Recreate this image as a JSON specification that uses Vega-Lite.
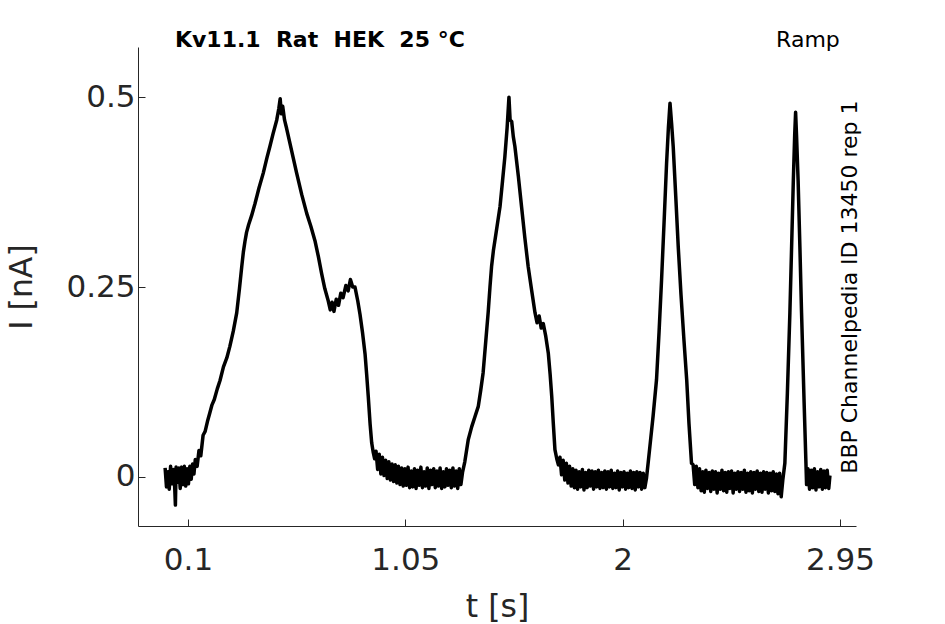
{
  "$schema": "https://vega.github.io/schema/vega-lite/v6.json",
  "width": 718,
  "height": 479,
  "autosize": {"type": "none"},
  "padding": {"left": 138, "top": 47, "right": 89, "bottom": 98},
  "background": "white",
  "data": {
    "values": [
      {"t": 0.000, "i": 0.012}, {"t": 0.006, "i": -0.013}, {"t": 0.012, "i": 0.007}, {"t": 0.018, "i": -0.016},
      {"t": 0.024, "i": 0.014}, {"t": 0.030, "i": -0.009}, {"t": 0.036, "i": 0.010}, {"t": 0.042, "i": -0.014},
      {"t": 0.045, "i": -0.037}, {"t": 0.048, "i": 0.013}, {"t": 0.054, "i": -0.007}, {"t": 0.060, "i": 0.012},
      {"t": 0.066, "i": -0.015}, {"t": 0.072, "i": 0.013}, {"t": 0.078, "i": -0.010}, {"t": 0.084, "i": 0.014},
      {"t": 0.090, "i": -0.012}, {"t": 0.096, "i": 0.011}, {"t": 0.102, "i": -0.009}, {"t": 0.108, "i": 0.014},
      {"t": 0.114, "i": -0.003}, {"t": 0.120, "i": 0.017}, {"t": 0.126, "i": 0.004}, {"t": 0.132, "i": 0.023},
      {"t": 0.140, "i": 0.014}, {"t": 0.148, "i": 0.035}, {"t": 0.156, "i": 0.028}, {"t": 0.166, "i": 0.055},
      {"t": 0.175, "i": 0.060}, {"t": 0.185, "i": 0.073}, {"t": 0.195, "i": 0.084}, {"t": 0.205, "i": 0.095},
      {"t": 0.215, "i": 0.102}, {"t": 0.228, "i": 0.116}, {"t": 0.240, "i": 0.127}, {"t": 0.255, "i": 0.145},
      {"t": 0.270, "i": 0.157}, {"t": 0.283, "i": 0.172}, {"t": 0.298, "i": 0.192}, {"t": 0.313, "i": 0.216},
      {"t": 0.325, "i": 0.248}, {"t": 0.335, "i": 0.277}, {"t": 0.342, "i": 0.296}, {"t": 0.349, "i": 0.310},
      {"t": 0.356, "i": 0.322}, {"t": 0.365, "i": 0.332}, {"t": 0.378, "i": 0.344}, {"t": 0.393, "i": 0.360},
      {"t": 0.410, "i": 0.380}, {"t": 0.429, "i": 0.400}, {"t": 0.445, "i": 0.420}, {"t": 0.458, "i": 0.435},
      {"t": 0.472, "i": 0.452}, {"t": 0.488, "i": 0.470}, {"t": 0.497, "i": 0.485}, {"t": 0.503, "i": 0.498},
      {"t": 0.508, "i": 0.478}, {"t": 0.514, "i": 0.488}, {"t": 0.522, "i": 0.470}, {"t": 0.531, "i": 0.459},
      {"t": 0.545, "i": 0.440}, {"t": 0.560, "i": 0.420}, {"t": 0.575, "i": 0.400}, {"t": 0.597, "i": 0.372},
      {"t": 0.619, "i": 0.347}, {"t": 0.637, "i": 0.330}, {"t": 0.655, "i": 0.311}, {"t": 0.670, "i": 0.290},
      {"t": 0.684, "i": 0.268}, {"t": 0.698, "i": 0.248}, {"t": 0.713, "i": 0.232}, {"t": 0.722, "i": 0.220},
      {"t": 0.730, "i": 0.230}, {"t": 0.738, "i": 0.218}, {"t": 0.748, "i": 0.234}, {"t": 0.758, "i": 0.226},
      {"t": 0.768, "i": 0.242}, {"t": 0.778, "i": 0.236}, {"t": 0.790, "i": 0.252}, {"t": 0.800, "i": 0.245},
      {"t": 0.810, "i": 0.260}, {"t": 0.820, "i": 0.250}, {"t": 0.830, "i": 0.250}, {"t": 0.842, "i": 0.232},
      {"t": 0.852, "i": 0.214}, {"t": 0.863, "i": 0.190}, {"t": 0.874, "i": 0.162}, {"t": 0.881, "i": 0.135},
      {"t": 0.888, "i": 0.106}, {"t": 0.896, "i": 0.070}, {"t": 0.903, "i": 0.045}, {"t": 0.910, "i": 0.032},
      {"t": 0.916, "i": 0.024}, {"t": 0.922, "i": 0.034}, {"t": 0.929, "i": 0.010}, {"t": 0.936, "i": 0.030},
      {"t": 0.943, "i": 0.004}, {"t": 0.950, "i": 0.026}, {"t": 0.957, "i": 0.002}, {"t": 0.964, "i": 0.022},
      {"t": 0.971, "i": -0.002}, {"t": 0.978, "i": 0.020}, {"t": 0.985, "i": -0.004}, {"t": 0.992, "i": 0.017},
      {"t": 0.999, "i": -0.006}, {"t": 1.006, "i": 0.016}, {"t": 1.013, "i": -0.008}, {"t": 1.020, "i": 0.014},
      {"t": 1.027, "i": -0.010}, {"t": 1.034, "i": 0.012}, {"t": 1.041, "i": -0.012}, {"t": 1.048, "i": 0.011},
      {"t": 1.055, "i": -0.011}, {"t": 1.062, "i": 0.013}, {"t": 1.069, "i": -0.014}, {"t": 1.076, "i": 0.008},
      {"t": 1.083, "i": -0.013}, {"t": 1.090, "i": 0.011}, {"t": 1.097, "i": -0.015}, {"t": 1.104, "i": 0.009},
      {"t": 1.111, "i": -0.011}, {"t": 1.118, "i": 0.013}, {"t": 1.125, "i": -0.014}, {"t": 1.132, "i": 0.007},
      {"t": 1.139, "i": -0.012}, {"t": 1.146, "i": 0.012}, {"t": 1.153, "i": -0.015}, {"t": 1.160, "i": 0.009},
      {"t": 1.167, "i": -0.010}, {"t": 1.174, "i": 0.011}, {"t": 1.181, "i": -0.014}, {"t": 1.188, "i": 0.008},
      {"t": 1.195, "i": -0.012}, {"t": 1.202, "i": 0.012}, {"t": 1.209, "i": -0.015}, {"t": 1.216, "i": 0.007},
      {"t": 1.223, "i": -0.013}, {"t": 1.230, "i": 0.011}, {"t": 1.237, "i": -0.011}, {"t": 1.244, "i": 0.009},
      {"t": 1.251, "i": -0.014}, {"t": 1.258, "i": 0.012}, {"t": 1.265, "i": -0.012}, {"t": 1.272, "i": 0.008},
      {"t": 1.279, "i": -0.015}, {"t": 1.286, "i": 0.011}, {"t": 1.293, "i": -0.010}, {"t": 1.300, "i": 0.006},
      {"t": 1.310, "i": 0.020}, {"t": 1.325, "i": 0.049}, {"t": 1.340, "i": 0.066}, {"t": 1.355, "i": 0.080},
      {"t": 1.369, "i": 0.093}, {"t": 1.380, "i": 0.115}, {"t": 1.390, "i": 0.137}, {"t": 1.402, "i": 0.180},
      {"t": 1.412, "i": 0.216}, {"t": 1.420, "i": 0.250}, {"t": 1.427, "i": 0.277}, {"t": 1.435, "i": 0.298},
      {"t": 1.442, "i": 0.312}, {"t": 1.453, "i": 0.334}, {"t": 1.464, "i": 0.356}, {"t": 1.475, "i": 0.390},
      {"t": 1.485, "i": 0.421}, {"t": 1.495, "i": 0.460}, {"t": 1.503, "i": 0.500}, {"t": 1.508, "i": 0.470},
      {"t": 1.515, "i": 0.468}, {"t": 1.522, "i": 0.448}, {"t": 1.529, "i": 0.435}, {"t": 1.544, "i": 0.396},
      {"t": 1.558, "i": 0.356}, {"t": 1.572, "i": 0.316}, {"t": 1.587, "i": 0.277}, {"t": 1.602, "i": 0.246},
      {"t": 1.617, "i": 0.216}, {"t": 1.626, "i": 0.203}, {"t": 1.635, "i": 0.212}, {"t": 1.644, "i": 0.196},
      {"t": 1.653, "i": 0.202}, {"t": 1.664, "i": 0.185}, {"t": 1.675, "i": 0.163}, {"t": 1.683, "i": 0.135},
      {"t": 1.690, "i": 0.106}, {"t": 1.697, "i": 0.070}, {"t": 1.704, "i": 0.036}, {"t": 1.712, "i": 0.024},
      {"t": 1.719, "i": 0.016}, {"t": 1.726, "i": 0.026}, {"t": 1.733, "i": 0.003}, {"t": 1.740, "i": 0.022},
      {"t": 1.747, "i": -0.004}, {"t": 1.754, "i": 0.018}, {"t": 1.761, "i": -0.008}, {"t": 1.768, "i": 0.014},
      {"t": 1.775, "i": -0.012}, {"t": 1.782, "i": 0.011}, {"t": 1.789, "i": -0.014}, {"t": 1.796, "i": 0.009},
      {"t": 1.803, "i": -0.016}, {"t": 1.810, "i": 0.007}, {"t": 1.817, "i": -0.013}, {"t": 1.824, "i": 0.010},
      {"t": 1.831, "i": -0.017}, {"t": 1.838, "i": 0.006}, {"t": 1.845, "i": -0.014}, {"t": 1.852, "i": 0.009},
      {"t": 1.859, "i": -0.012}, {"t": 1.866, "i": 0.008}, {"t": 1.873, "i": -0.016}, {"t": 1.880, "i": 0.007},
      {"t": 1.887, "i": -0.013}, {"t": 1.894, "i": 0.009}, {"t": 1.901, "i": -0.015}, {"t": 1.908, "i": 0.006},
      {"t": 1.915, "i": -0.014}, {"t": 1.922, "i": 0.008}, {"t": 1.929, "i": -0.016}, {"t": 1.936, "i": 0.007},
      {"t": 1.943, "i": -0.013}, {"t": 1.950, "i": 0.009}, {"t": 1.957, "i": -0.015}, {"t": 1.964, "i": 0.005},
      {"t": 1.971, "i": -0.014}, {"t": 1.978, "i": 0.008}, {"t": 1.985, "i": -0.017}, {"t": 1.992, "i": 0.006},
      {"t": 1.999, "i": -0.013}, {"t": 2.006, "i": 0.007}, {"t": 2.013, "i": -0.016}, {"t": 2.020, "i": 0.005},
      {"t": 2.027, "i": -0.014}, {"t": 2.034, "i": 0.008}, {"t": 2.041, "i": -0.015}, {"t": 2.048, "i": 0.006},
      {"t": 2.055, "i": -0.017}, {"t": 2.062, "i": 0.007}, {"t": 2.069, "i": -0.013}, {"t": 2.076, "i": 0.006},
      {"t": 2.083, "i": -0.016}, {"t": 2.090, "i": 0.005}, {"t": 2.097, "i": -0.014}, {"t": 2.104, "i": -0.002},
      {"t": 2.112, "i": 0.020}, {"t": 2.119, "i": 0.040}, {"t": 2.133, "i": 0.080}, {"t": 2.148, "i": 0.128},
      {"t": 2.159, "i": 0.190}, {"t": 2.170, "i": 0.259}, {"t": 2.181, "i": 0.335}, {"t": 2.192, "i": 0.413},
      {"t": 2.200, "i": 0.460}, {"t": 2.207, "i": 0.492}, {"t": 2.214, "i": 0.465}, {"t": 2.221, "i": 0.435},
      {"t": 2.232, "i": 0.370}, {"t": 2.243, "i": 0.303}, {"t": 2.255, "i": 0.240}, {"t": 2.268, "i": 0.180},
      {"t": 2.280, "i": 0.128}, {"t": 2.290, "i": 0.070}, {"t": 2.301, "i": 0.018}, {"t": 2.308, "i": 0.016},
      {"t": 2.315, "i": -0.010}, {"t": 2.322, "i": 0.014}, {"t": 2.329, "i": -0.014}, {"t": 2.336, "i": 0.011},
      {"t": 2.343, "i": -0.018}, {"t": 2.350, "i": 0.007}, {"t": 2.357, "i": -0.020}, {"t": 2.364, "i": 0.009},
      {"t": 2.371, "i": -0.015}, {"t": 2.378, "i": 0.006}, {"t": 2.385, "i": -0.019}, {"t": 2.392, "i": 0.008},
      {"t": 2.399, "i": -0.016}, {"t": 2.406, "i": 0.007}, {"t": 2.413, "i": -0.021}, {"t": 2.420, "i": 0.005},
      {"t": 2.427, "i": -0.016}, {"t": 2.434, "i": 0.009}, {"t": 2.441, "i": -0.018}, {"t": 2.448, "i": 0.006},
      {"t": 2.455, "i": -0.020}, {"t": 2.462, "i": 0.007}, {"t": 2.469, "i": -0.015}, {"t": 2.476, "i": 0.008},
      {"t": 2.483, "i": -0.021}, {"t": 2.490, "i": 0.005}, {"t": 2.497, "i": -0.016}, {"t": 2.504, "i": 0.007},
      {"t": 2.511, "i": -0.019}, {"t": 2.518, "i": 0.006}, {"t": 2.525, "i": -0.016}, {"t": 2.532, "i": 0.009},
      {"t": 2.539, "i": -0.020}, {"t": 2.546, "i": 0.005}, {"t": 2.553, "i": -0.018}, {"t": 2.560, "i": 0.007},
      {"t": 2.567, "i": -0.021}, {"t": 2.574, "i": 0.006}, {"t": 2.581, "i": -0.016}, {"t": 2.588, "i": 0.008},
      {"t": 2.595, "i": -0.019}, {"t": 2.602, "i": 0.005}, {"t": 2.609, "i": -0.020}, {"t": 2.616, "i": 0.007},
      {"t": 2.623, "i": -0.016}, {"t": 2.630, "i": 0.006}, {"t": 2.637, "i": -0.021}, {"t": 2.644, "i": 0.005},
      {"t": 2.651, "i": -0.018}, {"t": 2.658, "i": 0.007}, {"t": 2.665, "i": -0.019}, {"t": 2.672, "i": 0.004},
      {"t": 2.679, "i": -0.022}, {"t": 2.686, "i": 0.005}, {"t": 2.693, "i": -0.026}, {"t": 2.700, "i": -0.004},
      {"t": 2.709, "i": 0.018}, {"t": 2.720, "i": 0.110}, {"t": 2.731, "i": 0.216}, {"t": 2.740, "i": 0.320},
      {"t": 2.746, "i": 0.390}, {"t": 2.752, "i": 0.450}, {"t": 2.756, "i": 0.480}, {"t": 2.760, "i": 0.450},
      {"t": 2.767, "i": 0.390}, {"t": 2.775, "i": 0.300}, {"t": 2.782, "i": 0.216}, {"t": 2.793, "i": 0.100},
      {"t": 2.804, "i": -0.010}, {"t": 2.810, "i": 0.011}, {"t": 2.817, "i": -0.016}, {"t": 2.824, "i": 0.009},
      {"t": 2.831, "i": -0.014}, {"t": 2.838, "i": 0.011}, {"t": 2.845, "i": -0.017}, {"t": 2.852, "i": 0.007},
      {"t": 2.859, "i": -0.013}, {"t": 2.866, "i": 0.010}, {"t": 2.873, "i": -0.016}, {"t": 2.880, "i": 0.008},
      {"t": 2.887, "i": -0.014}, {"t": 2.894, "i": 0.009}, {"t": 2.901, "i": -0.015}, {"t": 2.906, "i": 0.002}
    ]
  },
  "layer": [
    {
      "mark": {"type": "line", "color": "black", "strokeWidth": 3.5, "strokeJoin": "round"},
      "encoding": {
        "x": {
          "field": "t",
          "type": "quantitative",
          "title": "t [s]",
          "scale": {"domain": [-0.1185, 3.02], "nice": false, "zero": false},
          "axis": {
            "values": [0.1, 1.05, 2, 2.95],
            "labelExpr": "datum.value + ''",
            "titleX": 359,
            "titleY": 90,
            "titleBaseline": "alphabetic",
            "titleAlign": "center"
          }
        },
        "y": {
          "field": "i",
          "type": "quantitative",
          "title": "I [nA]",
          "scale": {"domain": [-0.0645, 0.566], "nice": false, "zero": false},
          "axis": {
            "values": [0, 0.25, 0.5],
            "labelExpr": "datum.value + ''",
            "titleX": -116,
            "titleY": 239.5,
            "titleAngle": -90,
            "titleBaseline": "middle",
            "titleAlign": "center"
          }
        }
      }
    },
    {
      "data": {"values": [{}]},
      "mark": {"type": "text", "font": "DejaVu Sans", "fontSize": 22, "fontWeight": "bold", "align": "left", "baseline": "alphabetic", "color": "black"},
      "encoding": {
        "x": {"datum": 0.043, "type": "quantitative"},
        "y": {"datum": 0.566, "type": "quantitative"},
        "text": {"value": "Kv11.1\u00a0\u00a0Rat\u00a0\u00a0HEK\u00a0\u00a025\u00a0°C"}
      }
    },
    {
      "data": {"values": [{}]},
      "mark": {"type": "text", "font": "DejaVu Sans", "fontSize": 22, "align": "center", "baseline": "alphabetic", "color": "black"},
      "encoding": {
        "x": {"datum": 2.81, "type": "quantitative"},
        "y": {"datum": 0.566, "type": "quantitative"},
        "text": {"value": "Ramp"}
      }
    },
    {
      "data": {"values": [{}]},
      "mark": {"type": "text", "font": "DejaVu Sans", "fontSize": 22, "align": "center", "baseline": "middle", "angle": 270, "color": "black"},
      "encoding": {
        "x": {"datum": 2.993, "type": "quantitative"},
        "y": {"datum": 0.25, "type": "quantitative"},
        "text": {"value": "BBP Channelpedia ID 13450 rep 1"}
      }
    }
  ],
  "config": {
    "view": {"stroke": null},
    "axis": {
      "grid": false,
      "domainColor": "#262626",
      "domainWidth": 1,
      "tickColor": "#262626",
      "tickSize": -7,
      "tickWidth": 1,
      "labelFont": "DejaVu Sans",
      "labelFontSize": 31,
      "labelColor": "#262626",
      "titleFont": "DejaVu Sans",
      "titleFontSize": 31.5,
      "titleFontWeight": "normal",
      "titleColor": "#262626"
    },
    "axisX": {"labelPadding": 26},
    "axisY": {"labelPadding": 10}
  }
}
